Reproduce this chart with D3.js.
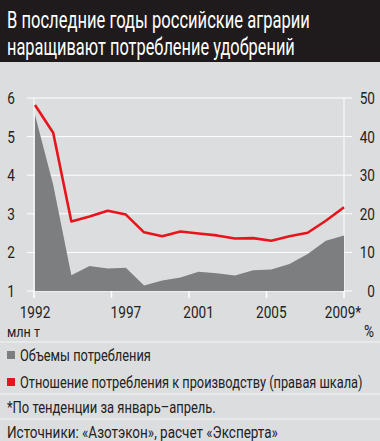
<!DOCTYPE html>
<html><head><meta charset="utf-8">
<script src="https://cdn.jsdelivr.net/npm/d3@7"></script>
<style>
html,body{margin:0;padding:0;background:#dcdddf;}
svg{display:block;}
text{font-family:"Roboto","Liberation Sans",sans-serif;}
</style></head>
<body>
<svg id="chart" width="380" height="441"></svg>
<script>
const years = [1992,1993,1994,1995,1996,1997,1998,1999,2000,2001,2002,2003,2004,2005,2006,2007,2008,2009];
const volume = [5.56,3.75,1.41,1.65,1.58,1.60,1.14,1.27,1.35,1.50,1.46,1.40,1.54,1.56,1.70,1.96,2.30,2.44];
const ratio = [48.2,41.0,18.0,19.3,20.8,19.8,15.2,14.2,15.4,14.9,14.4,13.6,13.7,13.0,14.2,15.1,18.2,21.7];
const xTickYears = [1992,1997,2001,2005,2009];
const xTickLabels = ["1992","1997","2001","2005","2009*"];
const leftTicks = [1,2,3,4,5,6];
const rightTicks = [0,10,20,30,40,50];
const titleLines = ["В последние годы российские аграрии","наращивают потребление удобрений"];
const legendItems = [
  {label:"Объемы потребления", color:"#7d7e80"},
  {label:"Отношение потребления к производству (правая шкала)", color:"#e8141c"}
];
const footnote = "*По тенденции за январь–апрель.";
const sources = "Источники: «Азотэкон», расчет «Эксперта»";

const svg = d3.select("#chart");
const W = 380, H = 441;
const SQ = 0.8;
// Condensed look: place text at (x,y) and scale horizontally about that anchor
function put(parent, str, x, y, size, fill, anchor, width){
  const t = parent.append("text").attr("font-size",size).attr("fill",fill)
    .attr("text-anchor",anchor||"start").text(str);
  const n = t.node().getComputedTextLength();
  const sx = width ? width/n : SQ;
  t.attr("transform",`translate(${x},${y}) scale(${sx},1)`);
  return t;
}

svg.append("rect").attr("width",W).attr("height",H).attr("fill","#dcdddf");
svg.append("rect").attr("width",W).attr("height",62).attr("fill","#1f1b1c");
const titleW = [303, 288];
titleLines.forEach((s,i)=>put(svg, s, 7, 28+i*27, 24, "#ffffff", "start", titleW[i]));

const x = d3.scaleLinear().domain([1992,2009]).range([35,344]);
const yL = d3.scaleLinear().domain([1,6]).range([291,98]);
const yR = d3.scaleLinear().domain([0,50]).range([291,98]);
const tickPos = d3.scaleLinear().domain([0,xTickYears.length-1]).range([34,344]);

const g = svg.append("g");
g.selectAll("line.grid").data(leftTicks).join("line")
  .attr("x1",27).attr("x2",352).attr("y1",d=>yL(d)).attr("y2",d=>yL(d))
  .attr("stroke","#ffffff").attr("stroke-width",1);
g.append("line").attr("x1",34).attr("x2",34).attr("y1",yL(6)).attr("y2",291).attr("stroke","#fff");
g.append("line").attr("x1",344).attr("x2",344).attr("y1",yL(6)).attr("y2",291).attr("stroke","#fff");
g.selectAll("line.xt").data(xTickYears).join("line")
  .attr("x1",(d,i)=>tickPos(i)).attr("x2",(d,i)=>tickPos(i))
  .attr("y1",291).attr("y2",298).attr("stroke","#fff").attr("stroke-width",1.5);

const area = d3.area().x((d,i)=>x(years[i])).y0(yL(1)).y1(d=>yL(d));
g.append("path").datum(volume).attr("d",area).attr("fill","#7d7e80");
const line = d3.line().x((d,i)=>x(years[i])).y(d=>yR(d));
g.append("path").datum(ratio).attr("d",line).attr("fill","none")
  .attr("stroke","#e8141c").attr("stroke-width",2.6).attr("stroke-linejoin","round");

leftTicks.forEach(d=>put(g, String(d), 11, yL(d)+6, 17, "#222", "middle"));
rightTicks.forEach(d=>put(g, String(d), 375, yR(d)+6, 17, "#222", "end"));
xTickYears.forEach((d,i)=>put(g, xTickLabels[i], x(d)+(i===xTickYears.length-1?-1:0), 318, 17, "#222", "middle"));
put(svg, "млн т", 7, 337, 15, "#222", "start", 33);
put(svg, "%", 374, 337, 17, "#222", "end");

[342,394,419].forEach(yy=>svg.append("line").attr("x1",0).attr("x2",W).attr("y1",yy).attr("y2",yy).attr("stroke","#f4f4f4").attr("stroke-width",1.2));

const legW = [131, 343];
legendItems.forEach((d,i)=>{
  const yy = 355+i*27;
  svg.append("rect").attr("x",7).attr("y",yy-4).attr("width",8).attr("height",8).attr("fill",d.color);
  put(svg, d.label, 20, yy+6, 16, "#222", "start", legW[i]);
});
put(svg, footnote, 7, 413, 16, "#222", "start", 209);
put(svg, sources, 7, 438, 16, "#222", "start", 271);
</script>
</body></html>
